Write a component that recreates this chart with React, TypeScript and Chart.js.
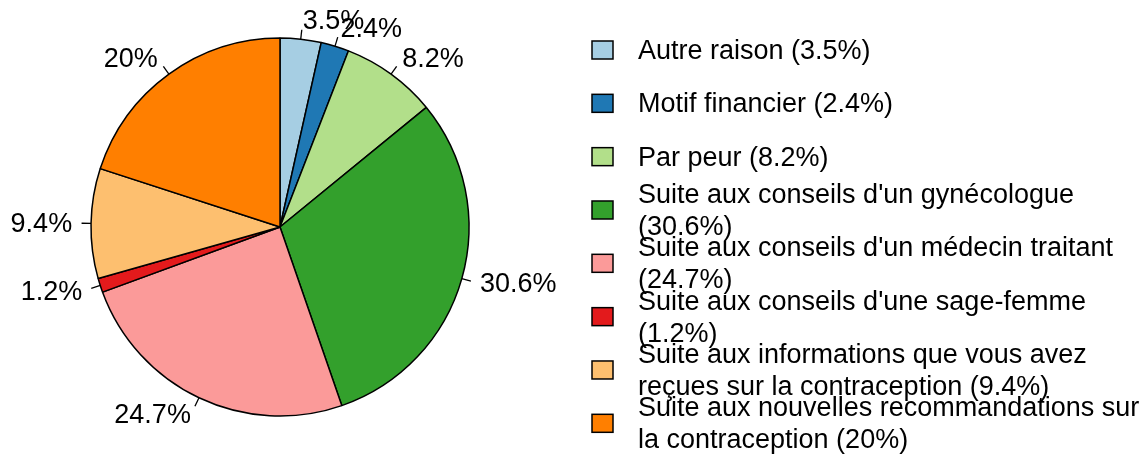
import React, { useEffect, useRef } from "react";
import { Chart, registerables } from "chart.js";

Chart.register(...registerables);

const categories = [
  "Autre raison",
  "Motif financier",
  "Par peur",
  "Suite aux conseils d'un gynécologue",
  "Suite aux conseils d'un médecin traitant",
  "Suite aux conseils d'une sage-femme",
  "Suite aux informations que vous avez reçues sur la contraception",
  "Suite aux nouvelles recommandations sur la contraception",
];
const values = [3.5, 2.4, 8.2, 30.6, 24.7, 1.2, 9.4, 20];
const colors = ["#A6CEE3", "#1F78B4", "#B2DF8A", "#33A02C", "#FB9A99", "#E31A1C", "#FDBF6F", "#FF7F00"];

const FONT = "27px 'Liberation Sans', Arial, sans-serif";

function wrap(text: string, limit: number): string[] {
  const words = text.split(" ");
  const lines: string[] = [];
  let cur = "";
  for (const w of words) {
    const t = cur ? cur + " " + w : w;
    if (t.length <= limit) cur = t;
    else {
      if (cur) lines.push(cur);
      cur = w;
    }
  }
  if (cur) lines.push(cur);
  return lines;
}

const labelPlugin = {
  id: "rlabels",
  afterDraw(chart: any) {
    const ctx = chart.ctx;
    const meta = chart.getDatasetMeta(0);
    ctx.save();
    ctx.font = FONT;
    ctx.fillStyle = "#000";
    ctx.strokeStyle = "#000";
    ctx.lineWidth = 1.3;
    ctx.textBaseline = "middle";
    meta.data.forEach((arc: any, i: number) => {
      const { x, y, startAngle, endAngle, outerRadius } = arc.getProps(
        ["x", "y", "startAngle", "endAngle", "outerRadius"],
        true
      );
      const mid = (startAngle + endAngle) / 2;
      const c = Math.cos(mid);
      const s = Math.sin(mid);
      ctx.beginPath();
      ctx.moveTo(x + c * outerRadius, y + s * outerRadius);
      ctx.lineTo(x + c * outerRadius * 1.05, y + s * outerRadius * 1.05);
      ctx.stroke();
      ctx.textAlign = c >= 0 ? "left" : "right";
      ctx.fillText(values[i] + "%", x + c * outerRadius * 1.1, y + s * outerRadius * 1.1 + 1);
    });
    // legend
    const boxX = 592;
    const boxW = 21;
    const boxH = 18;
    const textX = 638;
    const y0 = 50;
    const step = 53.33;
    const lineH = 32;
    ctx.textAlign = "left";
    categories.forEach((cat, i) => {
      const cy = y0 + step * i;
      ctx.fillStyle = colors[i];
      ctx.fillRect(boxX, cy - boxH / 2, boxW, boxH);
      ctx.strokeStyle = "#000";
      ctx.lineWidth = 1.5;
      ctx.strokeRect(boxX, cy - boxH / 2, boxW, boxH);
      ctx.fillStyle = "#000";
      const lines = wrap(cat + " (" + values[i] + "%)", 40);
      const top = cy + 1.5 - ((lines.length - 1) * lineH) / 2;
      lines.forEach((ln, j) => ctx.fillText(ln, textX, top + j * lineH));
    });
    ctx.restore();
  },
};

export default function App() {
  const ref = useRef<HTMLCanvasElement>(null);
  useEffect(() => {
    if (!ref.current) return;
    const chart = new Chart(ref.current, {
      type: "pie",
      data: {
        labels: categories,
        datasets: [
          {
            data: values,
            backgroundColor: colors,
            borderColor: "#000",
            borderWidth: 1.5,
          },
        ],
      },
      options: {
        responsive: false,
        animation: false,
        devicePixelRatio: 1,
        radius: 189,
        layout: { padding: { left: 91, right: 674, top: 38, bottom: 39 } },
        plugins: { legend: { display: false }, tooltip: { enabled: false } },
      } as any,
      plugins: [labelPlugin],
    });
    return () => chart.destroy();
  }, []);
  return (
    <div style={{ position: "fixed", left: 0, top: 0, width: 1143, height: 455, background: "#fff" }}>
      <canvas ref={ref} width={1143} height={455} />
    </div>
  );
}
